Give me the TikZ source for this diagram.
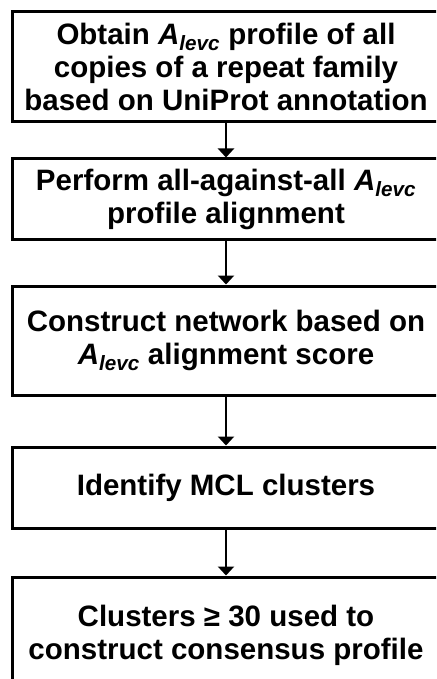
\documentclass[tikz,border=0pt]{standalone}
\usepackage{fontspec}
\setmainfont{Liberation Sans}
\usetikzlibrary{arrows.meta}

\tikzset{
  stepbox/.style={draw, line width=3pt, minimum width=428pt, inner sep=0pt,
    align=center, font=\bfseries\fontsize{29.5}{33}\selectfont},
  flowarrow/.style={-{Triangle[length=9pt,width=16pt]}, line width=2.2pt},
}
\newcommand{\alevc}{\textit{A}\textsubscript{\itshape levc}}

\begin{document}
\begin{tikzpicture}[x=1pt,y=-1pt]
\useasboundingbox (0,0) rectangle (436,679);
\clip (0,0) rectangle (436,679);
% Pipeline steps
\node[stepbox, minimum height=110pt] (obtain) at (226,67)
  {Obtain \alevc\ profile of all\\copies of a repeat family\\based on UniProt annotation};
\node[stepbox, minimum height=80pt] (allvsall) at (226,199)
  {Perform all-against-all \alevc\\profile alignment};
\node[stepbox, minimum height=109pt] (network) at (226,340.5)
  {Construct network based on\\\alevc\ alignment score};
\node[stepbox, minimum height=81pt] (mcl) at (226,487.5)
  {Identify MCL clusters};
\node[stepbox, minimum height=116pt] (consensus) at (226,635)
  {Clusters ≥ 30 used to\\construct consensus profile};
% Arrows
\draw[flowarrow] (obtain) -- (allvsall);
\draw[flowarrow] (allvsall) -- (network);
\draw[flowarrow] (network) -- (mcl);
\draw[flowarrow] (mcl) -- (consensus);
\end{tikzpicture}
\end{document}
